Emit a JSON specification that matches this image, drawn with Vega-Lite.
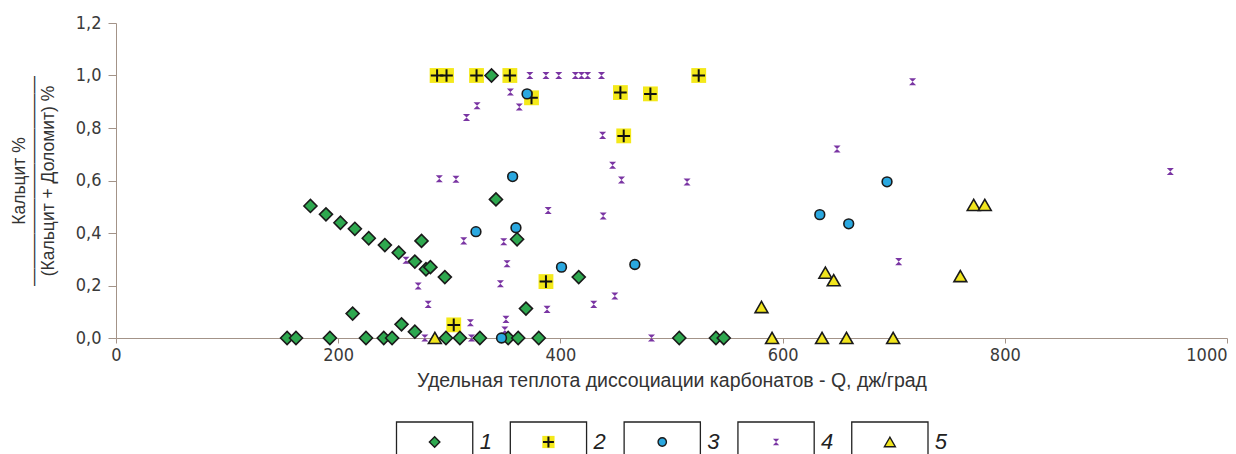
{
  "$schema": "https://vega.github.io/schema/vega-lite/v6.json",
  "background": "white",
  "padding": {"left": 10, "top": 14, "right": 0, "bottom": 0},
  "config": {
    "view": {"stroke": null},
    "font": "Liberation Sans Narrow, DejaVu Sans Condensed, sans-serif"
  },
  "datasets": {
    "points": [
      {"group": "2", "q": 289, "r": 1.0},
      {"group": "2", "q": 297.5, "r": 1.0},
      {"group": "2", "q": 324.5, "r": 1.0},
      {"group": "2", "q": 354.5, "r": 1.0},
      {"group": "2", "q": 374, "r": 0.915},
      {"group": "2", "q": 454, "r": 0.935},
      {"group": "2", "q": 481, "r": 0.93},
      {"group": "2", "q": 524.5, "r": 1.0},
      {"group": "2", "q": 457, "r": 0.77},
      {"group": "2", "q": 387, "r": 0.215},
      {"group": "2", "q": 304, "r": 0.05},

      {"group": "4", "q": 325, "r": 0.885},
      {"group": "4", "q": 315.5, "r": 0.84},
      {"group": "4", "q": 291, "r": 0.607},
      {"group": "4", "q": 306, "r": 0.605},
      {"group": "4", "q": 372.5, "r": 1.0},
      {"group": "4", "q": 387, "r": 1.0},
      {"group": "4", "q": 398.5, "r": 1.0},
      {"group": "4", "q": 413.5, "r": 1.0},
      {"group": "4", "q": 419, "r": 1.0},
      {"group": "4", "q": 424.5, "r": 1.0},
      {"group": "4", "q": 437, "r": 1.0},
      {"group": "4", "q": 355, "r": 0.937},
      {"group": "4", "q": 363, "r": 0.88},
      {"group": "4", "q": 438, "r": 0.772},
      {"group": "4", "q": 447, "r": 0.658},
      {"group": "4", "q": 455, "r": 0.602},
      {"group": "4", "q": 514, "r": 0.594},
      {"group": "4", "q": 389, "r": 0.486},
      {"group": "4", "q": 438.5, "r": 0.465},
      {"group": "4", "q": 349, "r": 0.367},
      {"group": "4", "q": 352, "r": 0.283},
      {"group": "4", "q": 346, "r": 0.207},
      {"group": "4", "q": 388, "r": 0.109},
      {"group": "4", "q": 430, "r": 0.128},
      {"group": "4", "q": 449, "r": 0.16},
      {"group": "4", "q": 351, "r": 0.071},
      {"group": "4", "q": 350, "r": 0.03},
      {"group": "4", "q": 482, "r": 0.0},
      {"group": "4", "q": 313, "r": 0.37},
      {"group": "4", "q": 261, "r": 0.296},
      {"group": "4", "q": 272, "r": 0.198},
      {"group": "4", "q": 281, "r": 0.128},
      {"group": "4", "q": 319, "r": 0.058},
      {"group": "4", "q": 278, "r": 0.0},
      {"group": "4", "q": 320, "r": 0.0},
      {"group": "4", "q": 717, "r": 0.976},
      {"group": "4", "q": 649, "r": 0.72},
      {"group": "4", "q": 704.5, "r": 0.291},
      {"group": "4", "q": 949, "r": 0.634},

      {"group": "1", "q": 175, "r": 0.503},
      {"group": "1", "q": 189, "r": 0.471},
      {"group": "1", "q": 202, "r": 0.439},
      {"group": "1", "q": 215, "r": 0.416},
      {"group": "1", "q": 227.5, "r": 0.38},
      {"group": "1", "q": 242, "r": 0.354},
      {"group": "1", "q": 254.5, "r": 0.325},
      {"group": "1", "q": 269, "r": 0.291},
      {"group": "1", "q": 279, "r": 0.262},
      {"group": "1", "q": 283, "r": 0.27},
      {"group": "1", "q": 296, "r": 0.232},
      {"group": "1", "q": 275, "r": 0.37},
      {"group": "1", "q": 213, "r": 0.093},
      {"group": "1", "q": 257, "r": 0.052},
      {"group": "1", "q": 269, "r": 0.024},
      {"group": "1", "q": 338, "r": 1.0},
      {"group": "1", "q": 342, "r": 0.528},
      {"group": "1", "q": 361, "r": 0.376},
      {"group": "1", "q": 369, "r": 0.112},
      {"group": "1", "q": 416.5, "r": 0.232},
      {"group": "1", "q": 154, "r": 0.0},
      {"group": "1", "q": 162, "r": 0.0},
      {"group": "1", "q": 192.5, "r": 0.0},
      {"group": "1", "q": 225, "r": 0.0},
      {"group": "1", "q": 241, "r": 0.0},
      {"group": "1", "q": 248.5, "r": 0.0},
      {"group": "1", "q": 297, "r": 0.0},
      {"group": "1", "q": 309.5, "r": 0.0},
      {"group": "1", "q": 327.5, "r": 0.0},
      {"group": "1", "q": 353, "r": 0.0},
      {"group": "1", "q": 362, "r": 0.0},
      {"group": "1", "q": 380.5, "r": 0.0},
      {"group": "1", "q": 507, "r": 0.0},
      {"group": "1", "q": 540, "r": 0.0},
      {"group": "1", "q": 547, "r": 0.0},

      {"group": "3", "q": 370, "r": 0.93},
      {"group": "3", "q": 324, "r": 0.405},
      {"group": "3", "q": 360, "r": 0.42},
      {"group": "3", "q": 357, "r": 0.615},
      {"group": "3", "q": 401, "r": 0.27},
      {"group": "3", "q": 467, "r": 0.28},
      {"group": "3", "q": 347, "r": 0.0},
      {"group": "3", "q": 694, "r": 0.595},
      {"group": "3", "q": 633.5, "r": 0.47},
      {"group": "3", "q": 659.5, "r": 0.435},

      {"group": "5", "q": 581, "r": 0.118},
      {"group": "5", "q": 638.5, "r": 0.249},
      {"group": "5", "q": 646, "r": 0.22},
      {"group": "5", "q": 760, "r": 0.236},
      {"group": "5", "q": 772, "r": 0.507},
      {"group": "5", "q": 782, "r": 0.507},
      {"group": "5", "q": 590.5, "r": 0.0},
      {"group": "5", "q": 635.5, "r": 0.0},
      {"group": "5", "q": 657.5, "r": 0.0},
      {"group": "5", "q": 699.5, "r": 0.0},
      {"group": "5", "q": 287, "r": 0.0}
    ],
    "legend": [
      {"group": "1"},
      {"group": "2"},
      {"group": "3"},
      {"group": "4"},
      {"group": "5"}
    ]
  },
  "spacing": 31,
  "vconcat": [
    {
      "width": 1111,
      "height": 315,
      "data": {"name": "points"},
      "encoding": {
        "x": {
          "field": "q",
          "type": "quantitative",
          "scale": {"domain": [0, 1000], "nice": false, "zero": false},
          "axis": {
            "title": "Удельная теплота диссоциации карбонатов - Q, дж/град",
            "values": [0, 200, 400, 600, 800, 1000],
            "format": "d",
            "grid": false,
            "domainColor": "#a39388",
            "tickColor": "#a39388",
            "tickSize": 5,
            "labelFontSize": 18,
            "labelColor": "#3a3a3a",
            "labelPadding": 3,
            "labelFlush": false,
            "labelAlign": {"expr": "datum.value === 1000 ? 'right' : 'center'"},
            "titleFont": "Liberation Sans, sans-serif",
            "titleFontSize": 19.5,
            "titleFontWeight": "normal",
            "titleColor": "#333333",
            "titlePadding": 7
          }
        },
        "y": {
          "field": "r",
          "type": "quantitative",
          "scale": {"domain": [0, 1.2], "nice": false},
          "axis": {
            "title": ["Кальцит %", "————————————", "(Кальцит + Доломит) %"],
            "values": [0, 0.2, 0.4, 0.6, 0.8, 1.0, 1.2],
            "labelExpr": "replace(format(datum.value, '.1f'), '.', ',')",
            "grid": false,
            "domainColor": "#a39388",
            "tickColor": "#a39388",
            "tickSize": 8,
            "labelFontSize": 18,
            "labelColor": "#3a3a3a",
            "labelPadding": 7,
            "titleFont": "Liberation Sans, sans-serif",
            "titleFontSize": 17.5,
            "titleFontWeight": "normal",
            "titleColor": "#333333",
            "titleLineHeight": 14.5,
            "titlePadding": 18
          }
        }
      },
      "layer": [
        {
          "transform": [{"filter": "datum.group === '2'"}],
          "mark": {"type": "point", "shape": "square", "filled": true, "fill": "#f4e91a", "strokeWidth": 0, "size": 220, "opacity": 1}
        },
        {
          "transform": [{"filter": "datum.group === '2'"}],
          "mark": {"type": "point", "shape": "M-1,0H1M0,-1V1", "filled": false, "stroke": "#111111", "strokeWidth": 2, "size": 160, "opacity": 1}
        },
        {
          "transform": [{"filter": "datum.group === '4'"}],
          "mark": {"type": "point", "shape": "M-1,-1H1L-1,1H1Z", "filled": true, "fill": "#7a35a3", "strokeWidth": 0, "size": 50, "opacity": 1}
        },
        {
          "transform": [{"filter": "datum.group === '1'"}],
          "mark": {"type": "point", "shape": "diamond", "filled": true, "fill": "#2ea84f", "stroke": "#1a1a1a", "strokeWidth": 1.6, "size": 170, "opacity": 1}
        },
        {
          "transform": [{"filter": "datum.group === '3'"}],
          "mark": {"type": "point", "shape": "circle", "filled": true, "fill": "#2aa8e0", "stroke": "#1a1a1a", "strokeWidth": 1.6, "size": 95, "opacity": 1}
        },
        {
          "transform": [{"filter": "datum.group === '5'"}],
          "mark": {"type": "point", "shape": "triangle-up", "filled": true, "fill": "#f1e51d", "stroke": "#1a1a1a", "strokeWidth": 1.6, "size": 165, "opacity": 1}
        }
      ]
    },
    {
      "width": 1111,
      "height": 40,
      "data": {"name": "legend"},
      "encoding": {
        "x": {
          "field": "group",
          "type": "nominal",
          "scale": {"type": "band", "domain": ["1", "2", "3", "4", "5"], "range": [280.5, 812], "paddingInner": 0.33, "paddingOuter": 0},
          "axis": null
        }
      },
      "layer": [
        {"mark": {"type": "rect", "fill": "white", "stroke": "#222222", "strokeWidth": 1.3}},
        {
          "transform": [{"filter": "datum.group === '1'"}],
          "mark": {"type": "point", "shape": "diamond", "filled": true, "fill": "#2ea84f", "stroke": "#1a1a1a", "strokeWidth": 1.4, "size": 110, "opacity": 1}
        },
        {
          "transform": [{"filter": "datum.group === '2'"}],
          "mark": {"type": "point", "shape": "square", "filled": true, "fill": "#f4e91a", "strokeWidth": 0, "size": 150, "opacity": 1}
        },
        {
          "transform": [{"filter": "datum.group === '2'"}],
          "mark": {"type": "point", "shape": "M-1,0H1M0,-1V1", "filled": false, "stroke": "#111111", "strokeWidth": 2, "size": 120, "opacity": 1}
        },
        {
          "transform": [{"filter": "datum.group === '3'"}],
          "mark": {"type": "point", "shape": "circle", "filled": true, "fill": "#2aa8e0", "stroke": "#1a1a1a", "strokeWidth": 1.4, "size": 70, "opacity": 1}
        },
        {
          "transform": [{"filter": "datum.group === '4'"}],
          "mark": {"type": "point", "shape": "M-1,-1H1L-1,1H1Z", "filled": true, "fill": "#7a35a3", "strokeWidth": 0, "size": 40, "opacity": 1}
        },
        {
          "transform": [{"filter": "datum.group === '5'"}],
          "mark": {"type": "point", "shape": "triangle-up", "filled": true, "fill": "#f1e51d", "stroke": "#1a1a1a", "strokeWidth": 1.4, "size": 120, "opacity": 1}
        },
        {
          "mark": {"type": "text", "align": "left", "baseline": "middle", "dx": 45, "fontSize": 22, "fontStyle": "italic", "font": "Liberation Sans, sans-serif", "color": "#222222"},
          "encoding": {"text": {"field": "group"}}
        }
      ]
    }
  ]
}
